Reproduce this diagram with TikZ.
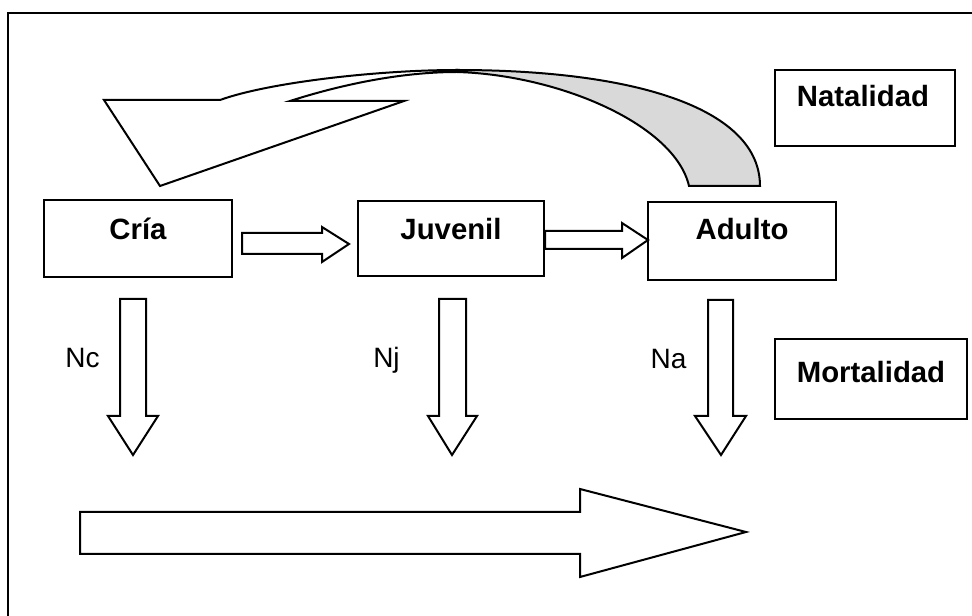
\documentclass[tikz,border=0pt]{standalone}
\usepackage{fontspec}
\setmainfont{Liberation Sans}
\begin{document}
\begin{tikzpicture}[x=0.75pt,y=-0.75pt,
  box/.style={draw, line width=1.3pt, inner sep=0pt},
  lbl/.style={font=\fontsize{22}{26}\selectfont\bfseries, anchor=base, inner sep=0pt},
  nlbl/.style={font=\fontsize{21}{25}\selectfont, anchor=base, inner sep=0pt},
  blockarrow/.style={draw, line width=1.5pt, fill=white, line join=miter},
  ribbon/.style={draw, line width=1.5pt, line join=miter}]
\useasboundingbox (0,0) rectangle (972,616);
% frame
\draw[line width=1.2pt] (8,620) -- (8,13) -- (976,13);

% boxes
\node[box, minimum width=141pt, minimum height=57.75pt] (cria) at (138,238.5) {};
\node[lbl] (criaT) at (138,240) {Cría};
\node[box, minimum width=139.5pt, minimum height=56.25pt] (juv) at (451,238.5) {};
\node[lbl] (juvT) at (451,240) {Juvenil};
\node[box, minimum width=141pt, minimum height=58.5pt] (adu) at (742,241) {};
\node[lbl] (aduT) at (742,240) {Adulto};
\node[box, minimum width=135pt, minimum height=57pt] (nat) at (865,108) {};
\node[lbl] (natT) at (863,107) {Natalidad};
\node[box, minimum width=144pt, minimum height=60pt] (mor) at (871,379) {};
\node[lbl] (morT) at (871,383) {Mortalidad};

% horizontal arrows
\draw[blockarrow] (242,233) -- (322,233) -- (322,227) -- (349,244) -- (322,262) -- (322,254) -- (242,254) -- cycle;
\draw[blockarrow] (545,231) -- (622,231) -- (622,223) -- (648,240) -- (622,258) -- (622,249) -- (545,249) -- cycle;

% down arrows
\draw[blockarrow] (120,299) -- (146,299) -- (146,416) -- (158,416) -- (133,455) -- (108,416) -- (120,416) -- cycle;
\draw[blockarrow] (439,299) -- (466,299) -- (466,416) -- (477,416) -- (452,455) -- (428,416) -- (439,416) -- cycle;
\draw[blockarrow] (708,300) -- (733,300) -- (733,416) -- (746,416) -- (721,455) -- (695,416) -- (708,416) -- cycle;

\node[nlbl] (nc) at (82.5,368) {Nc};
\node[nlbl] (nj) at (386.5,368) {Nj};
\node[nlbl] (na) at (668.5,369) {Na};

% big arrow
\draw[blockarrow] (80,512) -- (580,512) -- (580,489) -- (746,532) -- (580,577) -- (580,554) -- (80,554) -- cycle;

% curved natality arrow
\draw[ribbon, fill=gray!30] (457,70) .. controls (640,70) and (760,110) .. (760,186)
  -- (689,186) .. controls (675,125) and (560,75) .. (457,72) -- cycle;
\draw[ribbon, fill=white] (457,70) .. controls (380,70) and (270,82) .. (220,100)
  -- (104,100) -- (160,186) -- (404,101) -- (290,101)
  .. controls (340,85) and (400,72) .. (457,72) -- cycle;
\end{tikzpicture}
\end{document}
